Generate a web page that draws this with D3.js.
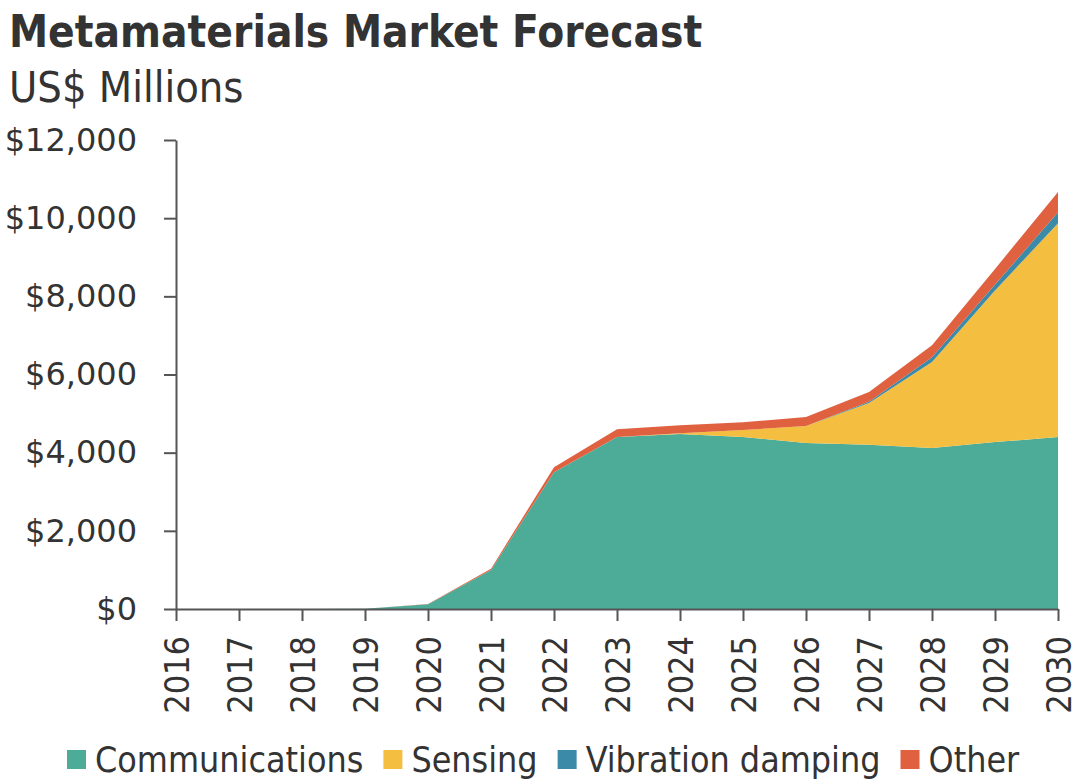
<!DOCTYPE html>
<html><head><meta charset="utf-8">
<script src="https://cdn.jsdelivr.net/npm/d3@7"></script>
<style>
body{margin:0;background:#fff;}
text{font-family:"DejaVu Sans Condensed","DejaVu Sans",sans-serif;fill:#333;}
</style></head>
<body>
<svg id="c" width="1078" height="780"></svg>
<script>
const years = [2016,2017,2018,2019,2020,2021,2022,2023,2024,2025,2026,2027,2028,2029,2030];
const communications = [0,0,0,5,120,1000,3500,4400,4480,4400,4250,4200,4120,4270,4400];
const sensing = [0,0,0,0,0,0,0,0,20,180,430,1070,2200,3880,5470];
const vibrationDamping = [0,0,0,0,0,0,0,0,0,0,0,30,120,150,280];
const other = [0,0,0,0,10,30,130,200,200,200,230,250,310,400,520];
const seriesNames = ["Communications","Sensing","Vibration damping","Other"];
const seriesColors = ["#4DAC98","#F4BE41","#3A8AA8","#E0613F"];
const yTicks = [0,2000,4000,6000,8000,10000,12000];

const svg = d3.select("#c");
const m = {l:176, r:1058, t:140, b:609};
const x = d3.scaleLinear().domain([2016,2030]).range([m.l,m.r]);
const y = d3.scaleLinear().domain([0,12000]).range([m.b,m.t]);

const rows = years.map((yr,i)=>({year:yr, "Communications":communications[i], "Sensing":sensing[i], "Vibration damping":vibrationDamping[i], "Other":other[i]}));
const stack = d3.stack().keys(seriesNames)(rows);
const area = d3.area().x(d=>x(d.data.year)).y0(d=>y(d[0])).y1(d=>y(d[1]));
svg.append("g").selectAll("path").data(stack).join("path")
  .attr("d",area).attr("fill",(d,i)=>seriesColors[i]);

// axes
const ax = svg.append("g").attr("transform",`translate(0,${m.b})`)
  .call(d3.axisBottom(x).tickValues(years).tickFormat(d3.format("d")).tickSize(12).tickSizeOuter(0));
ax.select(".domain").attr("stroke","#555").attr("stroke-width",2);
ax.selectAll(".tick line").attr("stroke","#555").attr("stroke-width",2);
ax.selectAll(".tick text").attr("font-size",34).attr("fill","#333")
  .attr("transform","rotate(-90)").attr("text-anchor","end").attr("dy","0.36em").attr("x",-27).attr("y",0)
  .style("font-family","'DejaVu Sans Condensed','DejaVu Sans',sans-serif");

const ay = svg.append("g").attr("transform",`translate(${m.l},0)`)
  .call(d3.axisLeft(y).tickValues(yTicks).tickFormat(d=>"$"+d3.format(",")(d)).tickSize(12).tickSizeOuter(0));
ay.select(".domain").attr("stroke","#555").attr("stroke-width",2);
ay.selectAll(".tick line").attr("stroke","#555").attr("stroke-width",2);
ay.selectAll(".tick text").attr("font-size",32).attr("fill","#333").attr("x",-39)
  .style("font-family","'DejaVu Sans',sans-serif");

// titles
svg.append("text").attr("x",9).attr("y",47).attr("font-size",43.7).attr("font-weight","bold").attr("fill","#333")
  .text("Metamaterials Market Forecast");
svg.append("text").attr("x",9).attr("y",102).attr("font-size",43).attr("fill","#333").text("US$ Millions");

// legend
const lg = svg.append("g");
let lx = 67;
const baseline = 772;
seriesNames.forEach((n,i)=>{
  lg.append("rect").attr("x",lx).attr("y",750).attr("width",19).attr("height",19).attr("fill",seriesColors[i]);
  const t = lg.append("text").attr("x",lx+28).attr("y",baseline).attr("font-size",35.5).attr("fill","#333").text(n);
  lx += 28 + t.node().getComputedTextLength() + 20;
});
</script>
</body></html>
